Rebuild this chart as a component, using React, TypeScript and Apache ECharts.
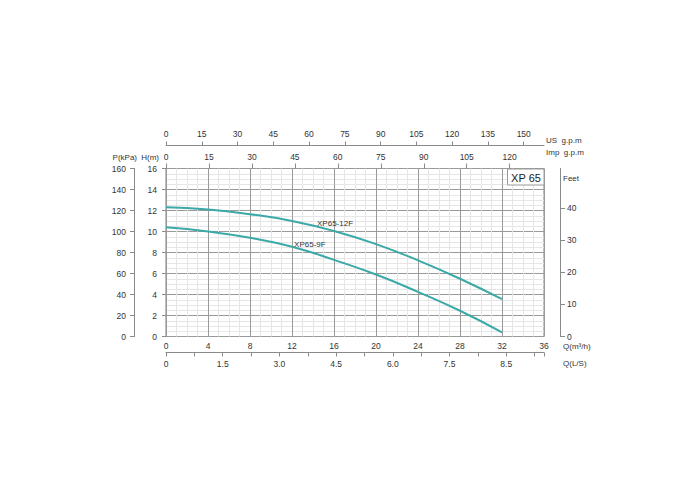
import React, { useEffect, useRef } from "react";
import * as echarts from "echarts";

// Flow in m³/h
const flowM3h = [0, 4, 8, 12, 16, 20, 24, 28, 32];
// Head in m
const head12F = [12.3, 12.1, 11.65, 11.0, 10.05, 8.8, 7.25, 5.5, 3.55];
const head9F = [10.4, 10.0, 9.4, 8.55, 7.3, 5.9, 4.25, 2.45, 0.4];
const seriesNames = ["XP65-12F", "XP65-9F"];
// Secondary axis ticks
const usTicks = [0, 15, 30, 45, 60, 75, 90, 105, 120, 135, 150];
const impTicks = [0, 15, 30, 45, 60, 75, 90, 105, 120];
const feetTicks = [0, 10, 20, 30, 40];
// L/S axis labels as printed on the chart
const lsTickValues = [0, 1.5, 3, 4.5, 6, 7.5, 9];
const lsTickLabels = ["0", "1.5", "3.0", "4.5", "6.0", "7.5", "8.5"];
const modelName = "XP 65";

const US_PER_M3H = 4.40287;
const IMP_PER_M3H = 3.66615;
const FT_PER_M = 3.28084;
const KPA_PER_M = 10;
const QMAX = 36;
const HMAX = 16;

const FONT = "Liberation Sans, Arial, sans-serif";
const TXT = "#333";
const AX = "#8a8a8a";
const CURVE = "#3aa9a7";
const FS = 8.5;

const listLabel = (list: number[]) => (v: number) =>
  list.some((t) => Math.abs(t - v) < 1e-6) ? String(Math.round(v)) : "";

export default function App() {
  const ref = useRef<HTMLDivElement>(null);
  useEffect(() => {
    if (!ref.current) return;
    const chart = echarts.init(ref.current, undefined, { renderer: "svg" });
    const lbl = { color: TXT, fontSize: FS, fontFamily: FONT };
    const option: any = {
      animation: false,
      backgroundColor: "#fff",
      grid: {
        left: 166,
        top: 168.5,
        width: 378,
        height: 168,
        show: true,
        borderColor: "#7a7a7a",
        borderWidth: 1,
        backgroundColor: "transparent",
      },
      xAxis: [
        {
          type: "value",
          min: 0,
          max: QMAX,
          interval: 4,
          position: "bottom",
          axisLine: { show: false, onZero: false },
          axisTick: { show: false },
          axisLabel: { ...lbl, margin: 5 },
          splitLine: { show: true, lineStyle: { color: "#9a9a9a", width: 1, type: "solid" } },
          minorTick: { show: false, splitNumber: 4 },
          minorSplitLine: { show: true, lineStyle: { color: "#e6e6e6", width: 1, type: "solid" } },
        },
        {
          type: "value",
          min: 0,
          max: QMAX * IMP_PER_M3H,
          interval: 15,
          position: "top",
          offset: 0,
          axisLine: { show: false, onZero: false },
          axisTick: { show: true, length: 5, customValues: impTicks, lineStyle: { color: AX } },
          axisLabel: { ...lbl, margin: 7, formatter: listLabel(impTicks) },
          splitLine: { show: false },
        },
        {
          type: "value",
          min: 0,
          max: QMAX * US_PER_M3H,
          interval: 15,
          position: "top",
          offset: 23,
          axisLine: { show: true, onZero: false, lineStyle: { color: AX, width: 1 } },
          axisTick: { show: true, length: 4, customValues: usTicks, lineStyle: { color: AX } },
          axisLabel: { ...lbl, margin: 7, formatter: listLabel(usTicks) },
          splitLine: { show: false },
        },
        {
          type: "value",
          min: 0,
          max: QMAX / 3.6,
          interval: 0.75,
          position: "bottom",
          offset: 16,
          axisLine: { show: true, onZero: false, lineStyle: { color: AX, width: 1 } },
          axisTick: { show: true, length: 4, lineStyle: { color: AX } },
          axisLabel: {
            ...lbl,
            margin: 7,
            formatter: (v: number) => {
              const i = lsTickValues.findIndex((t) => Math.abs(t - v) < 1e-6);
              return i >= 0 ? lsTickLabels[i] : "";
            },
          },
          splitLine: { show: false },
        },
      ],
      yAxis: [
        {
          type: "value",
          min: 0,
          max: HMAX,
          interval: 2,
          position: "left",
          axisLine: { show: false, onZero: false },
          axisTick: { show: true, length: 4, lineStyle: { color: AX } },
          axisLabel: { ...lbl, margin: 9 },
          splitLine: { show: true, lineStyle: { color: "#9a9a9a", width: 1, type: "solid" } },
          minorTick: { show: false, splitNumber: 4 },
          minorSplitLine: { show: true, lineStyle: { color: "#e6e6e6", width: 1, type: "solid" } },
        },
        {
          type: "value",
          min: 0,
          max: HMAX * KPA_PER_M,
          interval: 20,
          position: "left",
          offset: 32,
          axisLine: { show: true, onZero: false, lineStyle: { color: AX, width: 1 } },
          axisTick: { show: true, length: 4, lineStyle: { color: AX } },
          axisLabel: { ...lbl, margin: 8 },
          splitLine: { show: false },
        },
        {
          type: "value",
          min: 0,
          max: HMAX * FT_PER_M,
          interval: 10,
          position: "right",
          offset: 16,
          axisLine: { show: true, onZero: false, lineStyle: { color: AX, width: 1 } },
          axisTick: { show: true, length: 5, customValues: feetTicks, lineStyle: { color: AX } },
          axisLabel: { ...lbl, margin: 7, formatter: listLabel(feetTicks) },
          splitLine: { show: false },
        },
      ],
      series: [
        {
          name: seriesNames[0],
          type: "line",
          smooth: true,
          symbol: "none",
          xAxisIndex: 0,
          yAxisIndex: 0,
          lineStyle: { color: CURVE, width: 2 },
          data: flowM3h.map((q, i) => [q, head12F[i]]),
          markPoint: {
            symbol: "circle",
            symbolSize: 1,
            itemStyle: { color: "transparent" },
            label: {
              show: true,
              position: "inside",
              formatter: seriesNames[0],
              color: TXT,
              fontSize: 8,
              fontFamily: FONT,
            },
            data: [{ coord: [16.1, 10.72] }],
          },
        },
        {
          name: seriesNames[1],
          type: "line",
          smooth: true,
          symbol: "none",
          xAxisIndex: 0,
          yAxisIndex: 0,
          lineStyle: { color: CURVE, width: 2 },
          data: flowM3h.map((q, i) => [q, head9F[i]]),
          markPoint: {
            symbol: "circle",
            symbolSize: 1,
            itemStyle: { color: "transparent" },
            label: {
              show: true,
              position: "inside",
              formatter: seriesNames[1],
              color: TXT,
              fontSize: 8,
              fontFamily: FONT,
            },
            data: [{ coord: [13.7, 8.74] }],
          },
        },
      ],
      graphic: [
        {
          type: "rect",
          shape: { x: 507.5, y: 169, width: 36.5, height: 16 },
          style: { fill: "#fff", stroke: "#999", lineWidth: 1 },
          z: 10,
        },
        {
          type: "text",
          x: 526,
          y: 177.5,
          style: { text: modelName, fill: "#222", fontSize: 11, fontFamily: FONT, align: "center", verticalAlign: "middle" },
          z: 11,
        },
        { type: "text", x: 137, y: 157.7, style: { text: "P(kPa)", fill: TXT, fontSize: 8, fontFamily: FONT, align: "right", verticalAlign: "middle" } },
        { type: "text", x: 159, y: 157.7, style: { text: "H(m)", fill: TXT, fontSize: 8, fontFamily: FONT, align: "right", verticalAlign: "middle" } },
        { type: "text", x: 546, y: 140.7, style: { text: "US  g.p.m", fill: TXT, fontSize: 8, fontFamily: FONT, align: "left", verticalAlign: "middle" } },
        { type: "text", x: 546, y: 152.7, style: { text: "Imp  g.p.m", fill: TXT, fontSize: 8, fontFamily: FONT, align: "left", verticalAlign: "middle" } },
        { type: "text", x: 563, y: 178, style: { text: "Feet", fill: TXT, fontSize: 8, fontFamily: FONT, align: "left", verticalAlign: "middle" } },
        { type: "text", x: 563, y: 346.5, style: { text: "Q(m³/h)", fill: TXT, fontSize: 8, fontFamily: FONT, align: "left", verticalAlign: "middle" } },
        { type: "text", x: 563, y: 363.3, style: { text: "Q(L/S)", fill: TXT, fontSize: 8, fontFamily: FONT, align: "left", verticalAlign: "middle" } },
      ],
    };
    chart.setOption(option);
    return () => chart.dispose();
  }, []);
  return (
    <div
      ref={ref}
      style={{ position: "absolute", left: 0, top: 0, width: 700, height: 500, background: "#fff" }}
    />
  );
}
